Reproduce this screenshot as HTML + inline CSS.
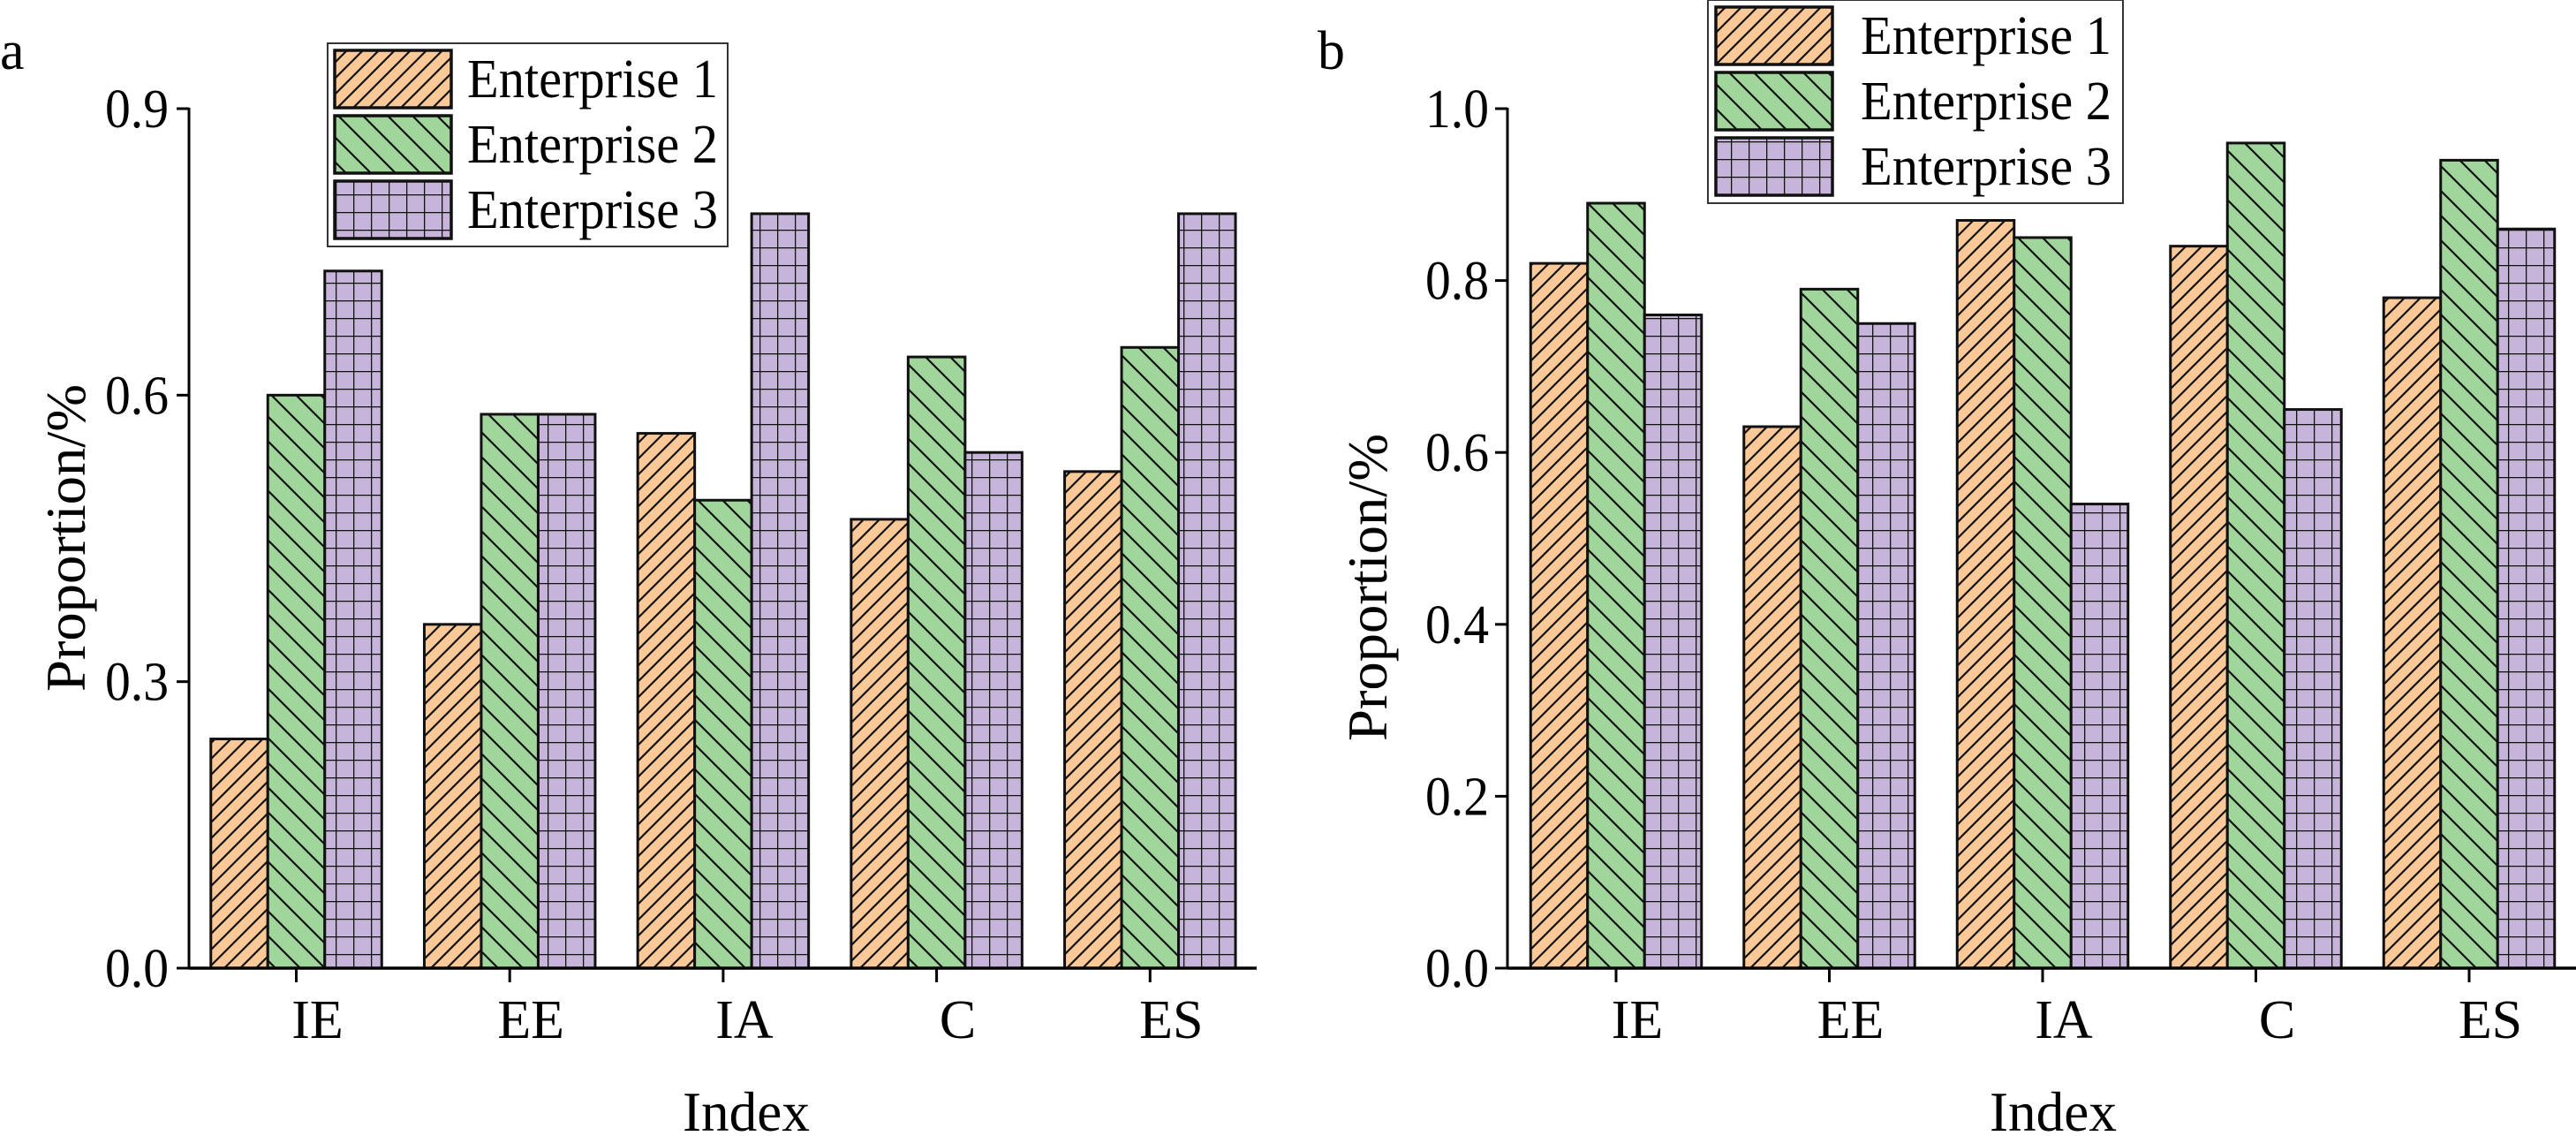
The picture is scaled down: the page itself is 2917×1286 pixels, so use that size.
<!DOCTYPE html>
<html><head><meta charset="utf-8"><style>
html,body{margin:0;padding:0;background:#fff;}
svg, svg text{font-family:"Liberation Serif","DejaVu Serif",serif;}
svg{display:block;}
</style></head><body>
<svg id="chart" width="2917" height="1286" viewBox="0 0 2917 1286" xmlns="http://www.w3.org/2000/svg" font-family="'Liberation Serif','DejaVu Serif',serif">
<defs>
<pattern id="pOrange" patternUnits="userSpaceOnUse" width="18" height="18">
<rect width="18" height="18" fill="#FBC898"/>
<path d="M-4,22 L22,-4 M-4,4 L4,-4 M14,22 L22,14" stroke="#111" stroke-width="2.2"/>
</pattern>
<pattern id="pGreen" patternUnits="userSpaceOnUse" width="28" height="28">
<rect width="28" height="28" fill="#A0D69C"/>
<path d="M-4,-4 L32,32 M-4,24 L4,32 M24,-4 L32,4" stroke="#111" stroke-width="2.2"/>
</pattern>
<pattern id="pPurple" patternUnits="userSpaceOnUse" width="20" height="20">
<rect width="20" height="20" fill="#C6B4DA"/>
<path d="M0,0 H20 M0,0 V20" stroke="#111" stroke-width="2.6"/>
</pattern>
</defs>
<g id="layer"></g>
</svg>
<script>
const categories = ["IE","EE","IA","C","ES"];
const seriesNames = ["Enterprise 1","Enterprise 2","Enterprise 3"];
const aE1 = [0.24,0.36,0.56,0.47,0.52];
const aE2 = [0.60,0.58,0.49,0.64,0.65];
const aE3 = [0.73,0.58,0.79,0.54,0.79];
const bE1 = [0.82,0.63,0.87,0.84,0.78];
const bE2 = [0.89,0.79,0.85,0.96,0.94];
const bE3 = [0.76,0.75,0.54,0.65,0.86];
const aTicks = [0.0,0.3,0.6,0.9];
const aTickLabels = ["0.0","0.3","0.6","0.9"];
const bTicks = [0.0,0.2,0.4,0.6,0.8,1.0];
const bTickLabels = ["0.0","0.2","0.4","0.6","0.8","1.0"];

const NS="http://www.w3.org/2000/svg";
const FONT="'Liberation Serif','DejaVu Serif',serif";
const layer=document.getElementById('layer');
const fills=["url(#pOrange)","url(#pGreen)","url(#pPurple)"];
function mk(tag,attrs,parent){const e=document.createElementNS(NS,tag);for(const k in attrs)e.setAttribute(k,attrs[k]);if(tag==='text')e.setAttribute('font-family',FONT);(parent||layer).appendChild(e);return e;}

function drawPanel(p){
  const g=mk('g',{});
  
  
  const y=v=>p.y0-(v/p.ymax)*(p.y0-p.yTop);
  const x=i=>p.x0c+i*p.step;
  const bw=p.bw;
  p.series.forEach((vals,s)=>{
    vals.forEach((v,i)=>{
      const cx=x(i)+(s-1)*bw;
      const r=mk('rect',{x:cx-bw/2,y:y(v),width:bw,height:p.y0-y(v),fill:fills[s],stroke:'#111','stroke-width':3},g);
      
      
    });
  });
  const ya=mk('line',{x1:p.ax,y1:p.yTop-1,x2:p.ax,y2:p.y0,stroke:'#000','stroke-width':3},g);
  
  
  const xa=mk('line',{x1:p.ax,y1:p.y0,x2:p.xEnd,y2:p.y0,stroke:'#000','stroke-width':3.5},g);
  
  
  p.ticks.forEach((t,k)=>{
    mk('line',{x1:p.ax-14,y1:y(t),x2:p.ax,y2:y(t),stroke:'#000','stroke-width':3},g);
    const tl=mk('text',{x:p.tickRight,y:y(t)+21,'text-anchor':'end','font-size':62,textLength:p.tickW,lengthAdjust:'spacingAndGlyphs'},g);
    tl.textContent=p.tickLabels[k];
    
    
  });
  categories.forEach((c,i)=>{
    mk('line',{x1:x(i),y1:p.y0,x2:x(i),y2:p.y0+16,stroke:'#000','stroke-width':3},g);
    const cl=mk('text',{x:x(i)+24,y:1175,'text-anchor':'middle','font-size':62},g);
    cl.textContent=c;
    
    
  });
  const yt=mk('text',{x:0,y:0,'text-anchor':'middle','font-size':64,transform:`translate(${p.ylabX},${p.ylabY}) rotate(-90)`,textLength:348,lengthAdjust:'spacingAndGlyphs'},g);
  yt.textContent='Proportion/%';
  
  
  const xt=mk('text',{x:p.xlabX,y:p.xlabY,'text-anchor':'middle','font-size':64,textLength:144,lengthAdjust:'spacingAndGlyphs'},g);
  xt.textContent='Index';
  
  
  const pl=mk('text',{x:p.letterX,y:p.letterY,'font-size':62},g);
  pl.textContent=p.id;
  
  
  const lg=mk('g',{},g);
  
  
  mk('rect',{x:p.lx,y:p.ly,width:p.lw,height:p.lh,fill:'#fff',stroke:'#333','stroke-width':2},lg);
  seriesNames.forEach((n,s)=>{
    const ry=p.rowY[s];
    const sw=mk('rect',{x:p.swX,y:ry,width:132,height:65,fill:fills[s],stroke:'#111','stroke-width':3.5},lg);
    
    
    const lt=mk('text',{x:p.txX,y:ry+53,'font-size':62,textLength:284,lengthAdjust:'spacingAndGlyphs'},lg);
    lt.textContent=n;
    
    
  });
}

drawPanel({id:'a',series:[aE1,aE2,aE3],ticks:aTicks,tickLabels:aTickLabels,ymax:0.9,
  y0:1096,yTop:123,ax:214,xEnd:1423,x0c:335.5,step:241.7,bw:64.5,tickRight:191,tickW:72,
  ylabX:96,ylabY:609,xlabX:845,xlabY:1280,letterX:0,letterY:78,
  lx:371,ly:49,lw:453,lh:230,swX:379,rowY:[57,131,205],txX:529});
drawPanel({id:'b',series:[bE1,bE2,bE3],ticks:bTicks,tickLabels:bTickLabels,ymax:1.0,
  y0:1096,yTop:123,ax:1707,xEnd:2917,x0c:1830,step:241.5,bw:64.5,tickRight:1686,tickW:72,
  ylabX:1570,ylabY:665,xlabX:2325,xlabY:1280,letterX:1492,letterY:78,
  lx:1934,ly:0,lw:470,lh:230,swX:1943,rowY:[8,82,156],txX:2107});
</script>
</body></html>
